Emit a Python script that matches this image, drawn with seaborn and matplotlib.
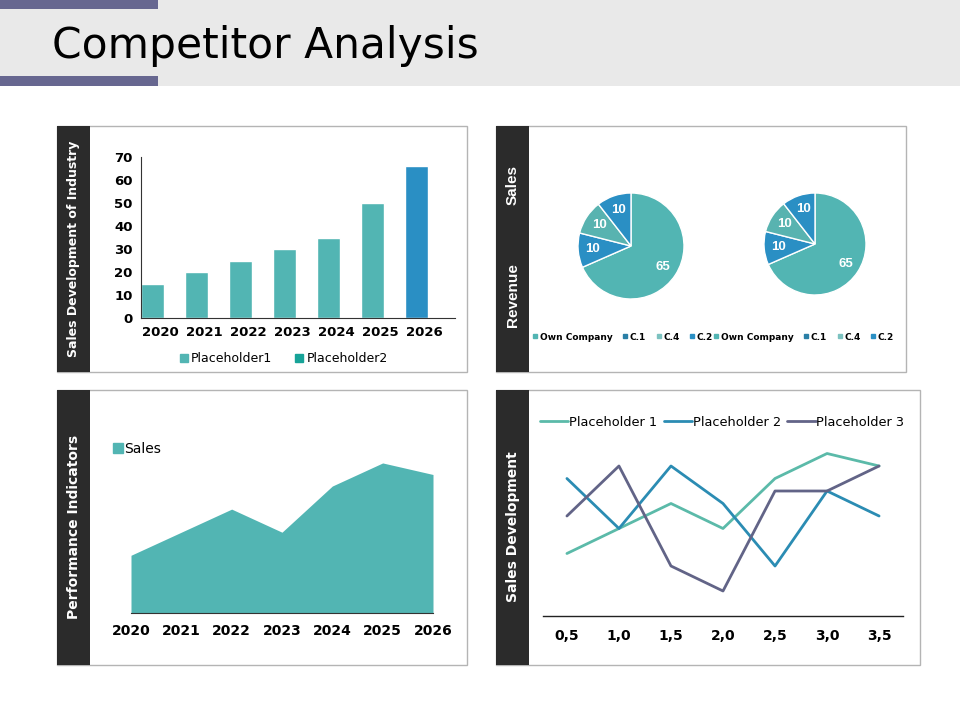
import numpy as np
import pandas as pd
import seaborn as sns
import matplotlib.pyplot as plt
import matplotlib.transforms as mtransforms
from matplotlib.patches import Rectangle
from matplotlib.lines import Line2D

# —— DATA —— #
TITLE = 'Competitor Analysis'

bar_years = ['2020', '2021', '2022', '2023', '2024', '2025', '2026']
bar_values = [15, 20, 25, 30, 35, 50, 66]
bar_legend = ['Placeholder1', 'Placeholder2']

pie_labels = ['Own Company', 'C.1', 'C.4', 'C.2']
pie_sales = [65, 10, 10, 10]
pie_revenue = [65, 10, 10, 10]

area_years = ['2020', '2021', '2022', '2023', '2024', '2025', '2026']
area_values = [2.5, 3.5, 4.5, 3.5, 5.5, 6.5, 6.0]

line_x = ['0,5', '1,0', '1,5', '2,0', '2,5', '3,0', '3,5']
line_ph1 = [2.5, 3.5, 4.5, 3.5, 5.5, 6.5, 6.0]
line_ph2 = [5.5, 3.5, 6.0, 4.5, 2.0, 5.0, 4.0]
line_ph3 = [4.0, 6.0, 2.0, 1.0, 5.0, 5.0, 6.0]
line_names = ['Placeholder 1', 'Placeholder 2', 'Placeholder 3']

strip_labels = ['Sales Development of Industry', 'Performance Indicators', 'Sales Development']

# —— STYLE —— #
TEAL = '#52b5b3'
BLUE = '#2a8fc4'
GREEN_TEAL = '#17a398'
STRIP = '#2b2b2b'
BORDER = '#b4b4b4'
LINE_COLORS = ['#5bbaa9', '#2b8cb3', '#626487']
PIE_COLORS = [TEAL, BLUE, '#58b3b0', BLUE]
PIE_LEG_COLORS = [TEAL, '#2a7fa6', '#7cc2c0', BLUE]

W, H = 960, 720

sns.set_theme(style='white')
plt.rcParams['font.family'] = ['DejaVu Sans']
plt.rcParams['text.color'] = 'black'
plt.rcParams['xtick.color'] = 'black'
plt.rcParams['ytick.color'] = 'black'


def rect(x0, y0, x1, y1):
    """pixel box (top-left origin) -> figure fraction rect"""
    return [x0 / W, 1 - y1 / H, (x1 - x0) / W, (y1 - y0) / H]


def fpt(x, y):
    return x / W, 1 - y / H


def add_box(x0, y0, x1, y1, z, **kw):
    fig.patches.append(Rectangle(fpt(x0, y1), (x1 - x0) / W, (y1 - y0) / H,
                                 transform=fig.transFigure, zorder=z, **kw))


def square_handles(colors, size):
    return [Line2D([], [], marker='s', linestyle='none', markersize=size, color=c) for c in colors]


fig = plt.figure(figsize=(W / 100, H / 100), dpi=100)
fig.patch.set_facecolor('white')

# header band
add_box(0, 0, W, 86, -5, facecolor='#e9e9e9', edgecolor='none')
add_box(0, 0, 158, 9, -4, facecolor='#676790', edgecolor='none')
add_box(0, 76, 158, 86, -4, facecolor='#676790', edgecolor='none')
fig.text(*fpt(52, 58), TITLE, fontsize=30.5, color='black', va='baseline', ha='left')

# panels with dark side strips
panels = [(57, 126, 467, 372), (496, 126, 906, 372), (57, 390, 467, 665), (496, 390, 920, 665)]
for x0, y0, x1, y1 in panels:
    add_box(x0, y0, x1, y1, -3, facecolor='white', edgecolor=BORDER, linewidth=1)
    add_box(x0, y0, x0 + 33, y1, -2, facecolor=STRIP, edgecolor='none')

strip_kw = dict(rotation=90, color='white', fontweight='bold', ha='center', va='center')
fig.text(*fpt(74, 249), strip_labels[0], fontsize=9, **strip_kw)
fig.text(*fpt(74, 527), strip_labels[1], fontsize=10, **strip_kw)
fig.text(*fpt(513, 527), strip_labels[2], fontsize=10, **strip_kw)
fig.text(*fpt(513, 185), 'Sales', fontsize=11, family='Liberation Sans', **strip_kw)
fig.text(*fpt(513, 295), 'Revenue', fontsize=11, family='Liberation Sans', **strip_kw)

# —— 1. bar chart —— #
ax1 = fig.add_axes(rect(141, 157, 455, 318))
bar_palette = {y: (BLUE if y == bar_years[-1] else TEAL) for y in bar_years}
sns.barplot(x=bar_years, y=bar_values, hue=bar_years, palette=bar_palette,
            width=0.52, saturation=1, legend=False, ax=ax1)
ax1.set_xlim(-0.26, 6.88)
ax1.set_ylim(0, 70)
ax1.set_yticks(range(0, 71, 10))
ax1.set_facecolor('none')
for s in ['top', 'right']:
    ax1.spines[s].set_visible(False)
for s in ['left', 'bottom']:
    ax1.spines[s].set_color('#333333')
    ax1.spines[s].set_linewidth(0.8)
ax1.tick_params(length=0, labelsize=9.5, pad=6)
for lab in ax1.get_xticklabels() + ax1.get_yticklabels():
    lab.set_fontweight('bold')
# category labels sit a little right of the bars (empty second series slot)
shift = mtransforms.ScaledTranslation(8 / 100, 0, fig.dpi_scale_trans)
for lab in ax1.get_xticklabels():
    lab.set_transform(lab.get_transform() + shift)
ax1.legend(square_handles([TEAL, GREEN_TEAL], 6), bar_legend, loc='center left',
           bbox_to_anchor=fpt(180, 359), bbox_transform=fig.transFigure, ncol=2,
           frameon=False, fontsize=9, handlelength=0.7, handletextpad=0.2,
           columnspacing=1.8, borderaxespad=0, borderpad=0)

# —— 2. pies —— #
for vals, (cx, cy, r), leg_x in [(pie_sales, (631, 246, 53), 533),
                                 (pie_revenue, (815, 244, 51), 714)]:
    axp = fig.add_axes(rect(cx - r, cy - r, cx + r, cy + r))
    total = sum(vals)
    axp.pie(vals, colors=PIE_COLORS, startangle=90, counterclock=False,
            autopct=lambda p, t=total: f'{p * t / 100:.0f}', pctdistance=0.72,
            wedgeprops=dict(edgecolor='white', linewidth=1),
            textprops=dict(color='white', fontweight='bold', fontsize=9.5, family='Liberation Sans'))
    axp.set_xlim(-1, 1)
    axp.set_ylim(-1, 1)
    axp.set_aspect('equal')
    axp.legend(square_handles(PIE_LEG_COLORS, 3.5), pie_labels, loc='center left',
               bbox_to_anchor=fpt(leg_x, 337), bbox_transform=fig.transFigure, ncol=4,
               frameon=False, prop=dict(size=6.5, weight='bold'), handlelength=0.5,
               handletextpad=0.25, columnspacing=1.15, borderaxespad=0, borderpad=0)

# —— 3. area chart —— #
ax3 = fig.add_axes(rect(131, 420, 433, 613))
sns.lineplot(x=area_years, y=area_values, color=TEAL, linewidth=0, ax=ax3)
ax3.fill_between(area_years, 0, area_values, color=TEAL, linewidth=0, label='Sales')
ax3.set_xlim(0, 6)
ax3.set_ylim(0, 8.36)
ax3.set_yticks([])
ax3.set_facecolor('none')
for s in ['top', 'right', 'left']:
    ax3.spines[s].set_visible(False)
ax3.spines['bottom'].set_color('#333333')
ax3.spines['bottom'].set_linewidth(0.8)
ax3.tick_params(length=0, labelsize=10, pad=8)
for lab in ax3.get_xticklabels():
    lab.set_fontweight('bold')
ax3.legend(square_handles([TEAL], 7), ['Sales'], loc='center left',
           bbox_to_anchor=fpt(114, 449), bbox_transform=fig.transFigure, frameon=False,
           fontsize=10, handlelength=0.6, handletextpad=0.15, borderaxespad=0, borderpad=0)

# —— 4. line chart —— #
ax4 = fig.add_axes(rect(543, 441, 903, 616))
df_lines = pd.DataFrame({'x': line_x * 3,
                         'value': line_ph1 + line_ph2 + line_ph3,
                         'series': np.repeat(line_names, len(line_x))})
sns.lineplot(data=df_lines, x='x', y='value', hue='series', palette=LINE_COLORS,
             linewidth=2, sort=False, ax=ax4)
ax4.set_xlim(-0.46, 6.46)
ax4.set_ylim(0, 7)
ax4.set_yticks([])
ax4.set_xlabel('')
ax4.set_ylabel('')
ax4.set_facecolor('none')
for s in ['top', 'right', 'left']:
    ax4.spines[s].set_visible(False)
ax4.spines['bottom'].set_color('#222222')
ax4.spines['bottom'].set_linewidth(1)
ax4.tick_params(length=0, labelsize=10, pad=9)
for lab in ax4.get_xticklabels():
    lab.set_fontweight('bold')
lh, ll = ax4.get_legend_handles_labels()
ax4.legend(lh, ll, loc='center left', bbox_to_anchor=fpt(540, 422),
           bbox_transform=fig.transFigure, ncol=3, frameon=False, fontsize=9.3,
           handlelength=2.2, handletextpad=0.05, columnspacing=0.5,
           borderaxespad=0, borderpad=0)

fig.savefig('out.png', dpi=100)
